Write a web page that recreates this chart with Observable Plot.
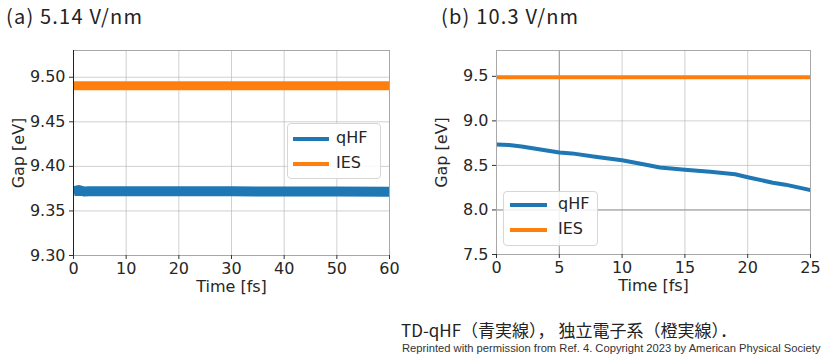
<!DOCTYPE html>
<html>
<head>
<meta charset="utf-8">
<script src="https://cdn.jsdelivr.net/npm/d3@7"></script>
<script src="https://cdn.jsdelivr.net/npm/@observablehq/plot@0.6"></script>
<style>
  html, body { margin: 0; padding: 0; background: #fff; }
  #root { position: relative; width: 822px; height: 358px; overflow: hidden; }
  .abs { position: absolute; white-space: nowrap; }
  .title { font-family: "Noto Sans CJK JP", "Noto Sans", sans-serif; font-size: 20px; letter-spacing: 1.2px; color: #222; line-height: 1.2; }
  .legend { position: absolute; background: rgba(255,255,255,0.85); border: 1px solid #d6d6d6; border-radius: 4px; box-sizing: border-box; }
  .legend .row { position: absolute; font-family: "DejaVu Sans", sans-serif; font-size: 16px; color: #262626; }
  .legend .sw { position: absolute; height: 4px; }
</style>
</head>
<body>
<div id="root"></div>
<script>
// ---------------- data ----------------
const titleA = "(a) 5.14 V/nm";
const titleB = "(b) 10.3 V/nm";
const seriesNames = ["qHF", "IES"];
const seriesColors = ["#1f77b4", "#ff7f0e"];

// panel (a)
const timeA = [0, 1, 2, 3, 5, 10, 20, 30, 40, 50, 60];
const qhfA  = [9.3720, 9.3735, 9.3718, 9.3720, 9.3720, 9.3720, 9.3720, 9.3720, 9.3718, 9.3717, 9.3716];
const iesA  = [9.4905, 9.4905, 9.4905, 9.4905, 9.4905, 9.4905, 9.4905, 9.4905, 9.4905, 9.4905, 9.4905];
const xTicksA = [0, 10, 20, 30, 40, 50, 60];
const yTicksA = [9.30, 9.35, 9.40, 9.45, 9.50];

// panel (b)
const timeB = [0, 1, 2, 4, 5, 6, 8, 10, 12, 13, 15, 17, 19, 20, 22, 23, 25];
const qhfB  = [8.736, 8.728, 8.712, 8.668, 8.645, 8.635, 8.594, 8.558, 8.505, 8.476, 8.452, 8.428, 8.400, 8.368, 8.305, 8.284, 8.222];
const iesB  = timeB.map(() => 9.49);
const xTicksB = [0, 5, 10, 15, 20, 25];
const yTicksB = [7.5, 8.0, 8.5, 9.0, 9.5];

const caption1 = "TD-qHF（青実線）， 独立電子系（橙実線）．";
const caption2 = "Reprinted with permission from Ref. 4. Copyright 2023 by American Physical Society";

// ---------------- drawing ----------------
const root = document.getElementById("root");
function rows(t, a, b) {
  return t.map((x, i) => ({t: x, qHF: a[i], IES: b[i]}));
}

function panel({data, width, height, ml, mr, mt, mb, xDom, yDom, xTicks, yTicks, yFmt, wq, wi, darkX, darkY, spine}) {
  return Plot.plot({
    width, height,
    marginLeft: ml, marginRight: mr, marginTop: mt, marginBottom: mb,
    style: {fontFamily: "DejaVu Sans, sans-serif", fontSize: "16px", color: "#262626", background: "transparent", overflow: "visible"},
    x: {domain: xDom},
    y: {domain: yDom},
    marks: [
      Plot.gridX(xTicks, {stroke: "#b0b0b0", strokeOpacity: 0.6, strokeWidth: 1}),
      Plot.gridY(yTicks, {stroke: "#b0b0b0", strokeOpacity: 0.6, strokeWidth: 1}),
      Plot.ruleX(darkX, {stroke: "#999", strokeWidth: 1}),
      Plot.ruleY(darkY, {stroke: "#999", strokeWidth: 1}),
      Plot.line(data, {x: "t", y: "qHF", stroke: seriesColors[0], strokeWidth: wq, strokeLinecap: "butt", clip: true}),
      Plot.line(data, {x: "t", y: "IES", stroke: seriesColors[1], strokeWidth: wi, strokeLinecap: "butt", clip: true}),
      Plot.frame({stroke: "#a8a8a8", strokeWidth: 1}),
      Plot.ruleX(spine, {stroke: "#222", strokeWidth: 1}),
      Plot.axisX(xTicks, {tickSize: 4, tickPadding: 3, stroke: "#333", label: "Time [fs]", labelAnchor: "center", labelArrow: "none", labelOffset: 36, fill: "#262626"}),
      Plot.axisY(yTicks, {tickSize: 4, tickPadding: 4, stroke: "#333", tickFormat: yFmt, label: "Gap [eV]", labelAnchor: "center", labelArrow: "none", labelOffset: 61, fill: "#262626"})
    ]
  });
}

function place(el, left, top) {
  el.style.position = "absolute";
  el.style.left = left + "px";
  el.style.top = top + "px";
  root.appendChild(el);
}

const svgA = panel({data: rows(timeA, qhfA, iesA), width: 410, height: 300, ml: 73, mr: 21, mt: 50, mb: 45,
  xDom: [0, 60], yDom: [9.30, 9.53], xTicks: xTicksA, yTicks: yTicksA, yFmt: d3.format(".2f"), wq: 10, wi: 9,
  darkX: [], darkY: [], spine: [0]});
place(svgA, 0, 0);

const svgB = panel({data: rows(timeB, qhfB, iesB), width: 412, height: 300, ml: 86, mr: 12, mt: 50, mb: 46,
  xDom: [0, 25], yDom: [7.5, 9.79], xTicks: xTicksB, yTicks: yTicksB, yFmt: d3.format(".1f"), wq: 4, wi: 4,
  darkX: [5], darkY: [8.0], spine: []});
place(svgB, 410, 0);

function addText(txt, cls, left, top, css) {
  const d = document.createElement("div");
  d.className = "abs " + (cls || "");
  d.textContent = txt;
  d.style.left = left + "px"; d.style.top = top + "px";
  Object.assign(d.style, css || {});
  root.appendChild(d);
  return d;
}
addText(titleA, "title", 6, 4);
addText(titleB, "title", 441, 4);

function legend(left, top, w, h, rowYs, lineX, lineW, textX) {
  const box = document.createElement("div");
  box.className = "legend";
  Object.assign(box.style, {left: left + "px", top: top + "px", width: w + "px", height: h + "px"});
  seriesNames.forEach((name, i) => {
    const sw = document.createElement("div");
    sw.className = "sw";
    Object.assign(sw.style, {left: lineX + "px", top: (rowYs[i] - 2) + "px", width: lineW + "px", background: seriesColors[i]});
    box.appendChild(sw);
    const t = document.createElement("div");
    t.className = "row";
    t.textContent = name;
    Object.assign(t.style, {left: textX + "px", top: (rowYs[i] - 11) + "px"});
    box.appendChild(t);
  });
  root.appendChild(box);
}
legend(287, 123, 94, 56, [15, 40], 5, 36, 48);
legend(503, 191, 95, 55, [13, 38], 6, 37, 54);

addText(caption1, "", 401, 320, {fontFamily: "'Noto Sans CJK JP', sans-serif", fontSize: "17px", color: "#222", lineHeight: "1.2"});
addText(caption2, "", 402, 342, {fontFamily: "'Liberation Sans', Arial, sans-serif", fontSize: "11.2px", color: "#333", lineHeight: "1.2"});
</script>
</body>
</html>
